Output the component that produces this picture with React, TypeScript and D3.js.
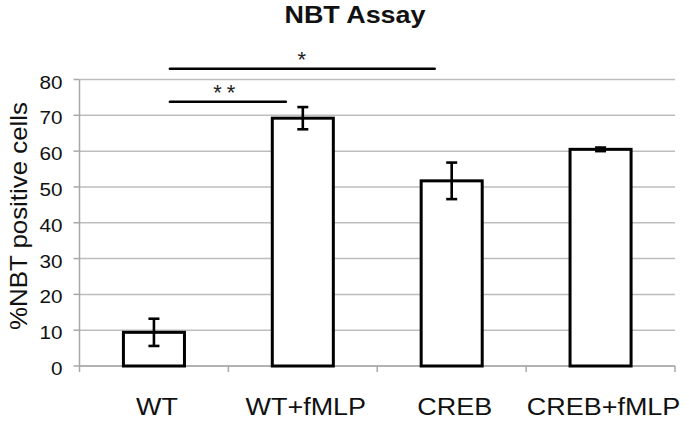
import * as d3 from "d3";

const categories = ["WT", "WT+fMLP", "CREB", "CREB+fMLP"];
const means = [9.4, 69.2, 51.7, 60.5];
const errors = [3.8, 3.1, 5.1, 0.5];
const yTicks = [0, 10, 20, 30, 40, 50, 60, 70, 80];

// significance brackets
const sigFrom = ["WT", "WT"];
const sigTo = ["CREB", "WT+fMLP"];
const sigLevel = [83, 73.8];
const sigLabel = ["*", "**"];

const W = 689;
const H = 422;
const left = 79.5;
const right = 675;
const top = 79.5;
const bottom = 366;
const font = "'Liberation Sans', Arial, Helvetica, sans-serif";

const App = () => {
  const x = d3.scaleBand().domain(categories).range([left, right]).paddingInner(0.59).paddingOuter(0.295);
  const y = d3.scaleLinear().domain([0, 80]).range([bottom, top]);
  const step = x.step();
  const bw = x.bandwidth();
  const cx = (c: string) => (x(c) ?? 0) + bw / 2;
  const bounds = d3.range(categories.length + 1).map((i) => left + i * step);

  return (
    <svg width={W} height={H} style={{ position: "absolute", left: 0, top: 0, background: "#fff" }}>
      <g transform={`translate(355,23) scale(1.17,1)`}>
        <text textAnchor="middle" fontFamily={font} fontWeight="bold" fontSize={23} fill="#111">
          NBT Assay
        </text>
      </g>

      {/* gridlines */}
      {yTicks.map((t) => (
        <line key={"g" + t} x1={left} x2={right} y1={y(t)} y2={y(t)} stroke="#bdbdbd" strokeWidth={1.5} />
      ))}

      {/* y axis */}
      <line x1={left} x2={left} y1={y(80)} y2={y(0)} stroke="#a8a8a8" strokeWidth={1.5} />
      {yTicks.map((t) => (
        <g key={"t" + t}>
          <line x1={left - 6} x2={left} y1={y(t)} y2={y(t)} stroke="#a8a8a8" strokeWidth={1.5} />
          <g transform={`translate(62.5,${y(t) + 9}) scale(1.15,1)`}>
            <text textAnchor="end" fontFamily={font} fontSize={18} fill="#111">
              {t}
            </text>
          </g>
        </g>
      ))}

      {/* x axis */}
      <line x1={left} x2={right} y1={y(0)} y2={y(0)} stroke="#a8a8a8" strokeWidth={1.5} />
      {bounds.map((b, i) => (
        <line key={"b" + i} x1={b} x2={b} y1={y(0)} y2={y(0) + 6} stroke="#a8a8a8" strokeWidth={1.5} />
      ))}

      {/* bars */}
      {categories.map((c, i) => (
        <rect key={c} x={x(c)} y={y(means[i])} width={bw} height={y(0) - y(means[i])} fill="#fff" stroke="#000" strokeWidth={3} />
      ))}

      {/* error bars */}
      {categories.map((c, i) => {
        const hi = y(means[i] + errors[i]);
        const lo = y(means[i] - errors[i]);
        const c0 = cx(c);
        return (
          <g key={"e" + c} stroke="#000" strokeWidth={2.6}>
            <line x1={c0} x2={c0} y1={hi} y2={lo} />
            <line x1={c0 - 5.5} x2={c0 + 5.5} y1={hi} y2={hi} />
            <line x1={c0 - 5.5} x2={c0 + 5.5} y1={lo} y2={lo} />
          </g>
        );
      })}

      {/* significance */}
      {sigLabel.map((s, i) => {
        const x1 = cx(sigFrom[i]) + 16;
        const x2 = cx(sigTo[i]) - 17;
        const yy = y(sigLevel[i]);
        return (
          <g key={"s" + i}>
            <line x1={x1} x2={x2} y1={yy} y2={yy} stroke="#000" strokeWidth={2.6} strokeLinecap="round" />
            <text
              x={i === 0 ? (x1 + x2) / 2 + 2 : (x1 + x2) / 2 - 1}
              y={yy - 2}
              textAnchor="middle"
              fontFamily={font}
              fontSize={22}
              fill="#222"
              letterSpacing={5}
            >
              {s}
            </text>
          </g>
        );
      })}

      {/* x labels */}
      {categories.map((c) => (
        <g key={"l" + c} transform={`translate(${cx(c) + 3},415) scale(1.1,1)`}>
          <text textAnchor="middle" fontFamily={font} fontSize={24.5} fill="#111">
            {c}
          </text>
        </g>
      ))}

      {/* y label */}
      <text
        transform={`translate(27,216) rotate(-90)`}
        textAnchor="middle"
        fontFamily={font}
        fontSize={24}
        fill="#111"
        textLength={228}
        lengthAdjust="spacingAndGlyphs"
      >
        %NBT positive cells
      </text>
    </svg>
  );
};

export default App;
